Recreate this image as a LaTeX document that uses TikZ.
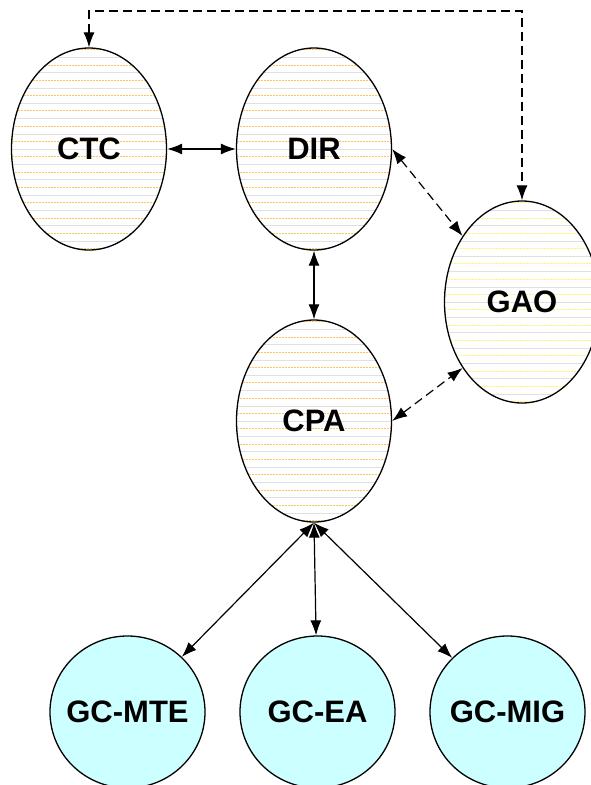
\documentclass[tikz,border=0pt]{standalone}
\usepackage{fontspec}
\setmainfont{Liberation Sans}
\usetikzlibrary{shapes.geometric,arrows.meta,positioning}
\definecolor{gcfill}{RGB}{204,255,255}
\definecolor{hatchorange}{RGB}{255,196,90}
\definecolor{hatchyellow}{RGB}{255,245,120}

\begin{document}
\begin{tikzpicture}[x=1pt,y=-1pt,
  font=\fontsize{31}{36}\selectfont\bfseries,
  >={Latex[length=15pt,width=11pt]},
  unit/.style={ellipse,draw,line width=1.3pt,minimum width=155pt,minimum height=202pt,inner sep=0pt},
  hatch/.style={path picture={
    \foreach \k in {-7,...,7}{
      \draw[black!12,line width=0.4pt] ([yshift=\k*15.3pt]path picture bounding box.west) -- ++(160pt,0);
      \draw[#1,line width=0.6pt,dash pattern=on 2pt off 1pt] ([yshift=\k*15.3pt+7.65pt]path picture bounding box.west) -- ++(160pt,0);}}},
  gc/.style={ellipse,draw,line width=1.3pt,fill=gcfill,minimum width=155pt,minimum height=152pt,inner xsep=-30pt,inner ysep=0pt},
  conn/.style={<->,line width=1.2pt},
  dashconn/.style={conn,dash pattern=on 9pt off 5pt}]
\useasboundingbox (0,0) rectangle (590,785);

\node[unit,hatch=hatchorange] (ctc) at (89,149) {CTC};
\node[unit,hatch=hatchorange] (dir) at (314,149) {DIR};
\node[unit,hatch=hatchyellow] (gao) at (522,302) {GAO};
\node[unit,hatch=hatchorange] (cpa) at (314,421) {CPA};

\node[gc] (gcmte) at (127.5,712) {GC-MTE};
\node[gc] (gcea) at (317.5,712) {GC-EA};
\node[gc] (gcmig) at (507.5,712) {GC-MIG};

\coordinate (topline) at (0,11);
\draw[dashconn] (ctc.north) -- (ctc.north |- topline) -| (gao.north);
\draw[conn] (ctc) -- (dir);
\draw[conn] (dir) -- (cpa);
\draw[dashconn] (dir.east) -- (gao.132);
\draw[dashconn] (cpa.east) -- (gao.228);
\draw[conn] (cpa.south) -- (gcmte);
\draw[conn] (cpa.south) -- (gcea);
\draw[conn] (cpa.south) -- (gcmig);
\end{tikzpicture}
\end{document}
